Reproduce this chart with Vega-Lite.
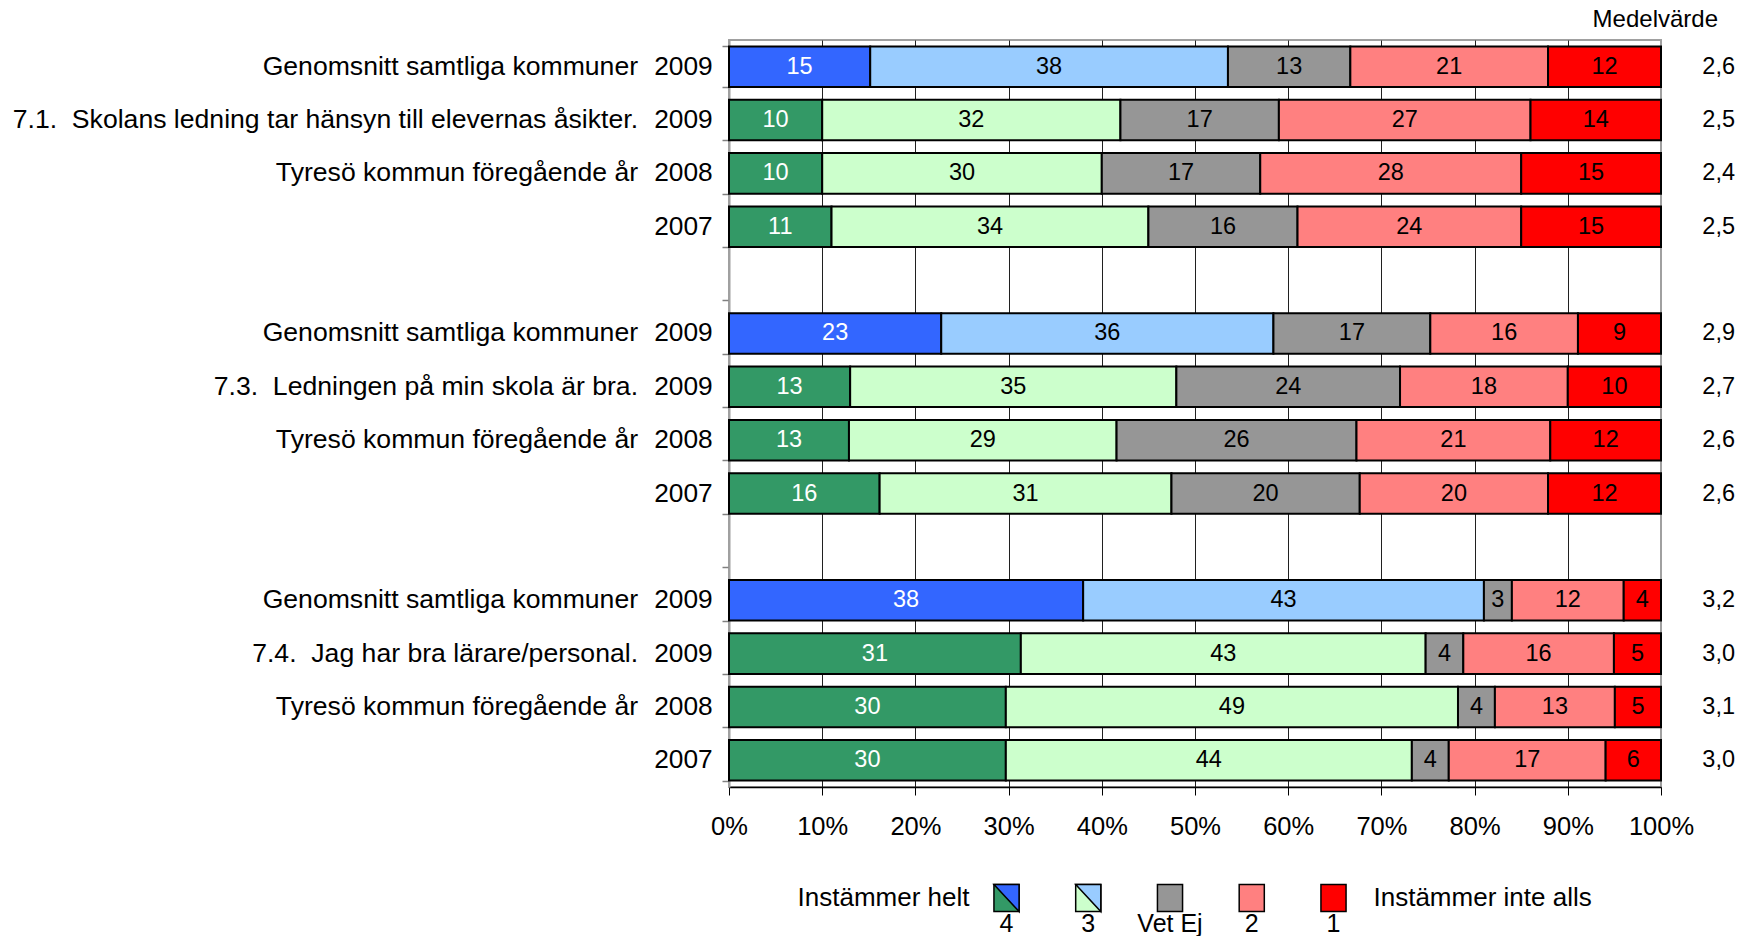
{
  "$schema": "https://vega.github.io/schema/vega-lite/v6.json",
  "padding": {"left": 11, "top": 7, "right": 0, "bottom": 0},
  "background": "white",
  "spacing": 40,
  "config": {"font": "Liberation Sans", "view": {"stroke": null}},
  "datasets": {
    "segs": [
      {"r": "r01", "i": 1, "c": "4s", "v": 15}, {"r": "r01", "i": 2, "c": "3s", "v": 38}, {"r": "r01", "i": 3, "c": "Vet Ej", "v": 13}, {"r": "r01", "i": 4, "c": "2", "v": 21}, {"r": "r01", "i": 5, "c": "1", "v": 12},
      {"r": "r02", "i": 1, "c": "4", "v": 10}, {"r": "r02", "i": 2, "c": "3", "v": 32}, {"r": "r02", "i": 3, "c": "Vet Ej", "v": 17}, {"r": "r02", "i": 4, "c": "2", "v": 27}, {"r": "r02", "i": 5, "c": "1", "v": 14},
      {"r": "r03", "i": 1, "c": "4", "v": 10}, {"r": "r03", "i": 2, "c": "3", "v": 30}, {"r": "r03", "i": 3, "c": "Vet Ej", "v": 17}, {"r": "r03", "i": 4, "c": "2", "v": 28}, {"r": "r03", "i": 5, "c": "1", "v": 15},
      {"r": "r04", "i": 1, "c": "4", "v": 11}, {"r": "r04", "i": 2, "c": "3", "v": 34}, {"r": "r04", "i": 3, "c": "Vet Ej", "v": 16}, {"r": "r04", "i": 4, "c": "2", "v": 24}, {"r": "r04", "i": 5, "c": "1", "v": 15},
      {"r": "r06", "i": 1, "c": "4s", "v": 23}, {"r": "r06", "i": 2, "c": "3s", "v": 36}, {"r": "r06", "i": 3, "c": "Vet Ej", "v": 17}, {"r": "r06", "i": 4, "c": "2", "v": 16}, {"r": "r06", "i": 5, "c": "1", "v": 9},
      {"r": "r07", "i": 1, "c": "4", "v": 13}, {"r": "r07", "i": 2, "c": "3", "v": 35}, {"r": "r07", "i": 3, "c": "Vet Ej", "v": 24}, {"r": "r07", "i": 4, "c": "2", "v": 18}, {"r": "r07", "i": 5, "c": "1", "v": 10},
      {"r": "r08", "i": 1, "c": "4", "v": 13}, {"r": "r08", "i": 2, "c": "3", "v": 29}, {"r": "r08", "i": 3, "c": "Vet Ej", "v": 26}, {"r": "r08", "i": 4, "c": "2", "v": 21}, {"r": "r08", "i": 5, "c": "1", "v": 12},
      {"r": "r09", "i": 1, "c": "4", "v": 16}, {"r": "r09", "i": 2, "c": "3", "v": 31}, {"r": "r09", "i": 3, "c": "Vet Ej", "v": 20}, {"r": "r09", "i": 4, "c": "2", "v": 20}, {"r": "r09", "i": 5, "c": "1", "v": 12},
      {"r": "r11", "i": 1, "c": "4s", "v": 38}, {"r": "r11", "i": 2, "c": "3s", "v": 43}, {"r": "r11", "i": 3, "c": "Vet Ej", "v": 3}, {"r": "r11", "i": 4, "c": "2", "v": 12}, {"r": "r11", "i": 5, "c": "1", "v": 4},
      {"r": "r12", "i": 1, "c": "4", "v": 31}, {"r": "r12", "i": 2, "c": "3", "v": 43}, {"r": "r12", "i": 3, "c": "Vet Ej", "v": 4}, {"r": "r12", "i": 4, "c": "2", "v": 16}, {"r": "r12", "i": 5, "c": "1", "v": 5},
      {"r": "r13", "i": 1, "c": "4", "v": 30}, {"r": "r13", "i": 2, "c": "3", "v": 49}, {"r": "r13", "i": 3, "c": "Vet Ej", "v": 4}, {"r": "r13", "i": 4, "c": "2", "v": 13}, {"r": "r13", "i": 5, "c": "1", "v": 5},
      {"r": "r14", "i": 1, "c": "4", "v": 30}, {"r": "r14", "i": 2, "c": "3", "v": 44}, {"r": "r14", "i": 3, "c": "Vet Ej", "v": 4}, {"r": "r14", "i": 4, "c": "2", "v": 17}, {"r": "r14", "i": 5, "c": "1", "v": 6}
    ],
    "rows": [
      {"r": "r01", "label": "Genomsnitt samtliga kommuner", "year": "2009", "mean": "2,6"},
      {"r": "r02", "label": "7.1.\u00a0 Skolans ledning tar hänsyn till elevernas åsikter.", "year": "2009", "mean": "2,5"},
      {"r": "r03", "label": "Tyresö kommun föregående år", "year": "2008", "mean": "2,4"},
      {"r": "r04", "label": "", "year": "2007", "mean": "2,5"},
      {"r": "r06", "label": "Genomsnitt samtliga kommuner", "year": "2009", "mean": "2,9"},
      {"r": "r07", "label": "7.3.\u00a0 Ledningen på min skola är bra.", "year": "2009", "mean": "2,7"},
      {"r": "r08", "label": "Tyresö kommun föregående år", "year": "2008", "mean": "2,6"},
      {"r": "r09", "label": "", "year": "2007", "mean": "2,6"},
      {"r": "r11", "label": "Genomsnitt samtliga kommuner", "year": "2009", "mean": "3,2"},
      {"r": "r12", "label": "7.4.\u00a0 Jag har bra lärare/personal.", "year": "2009", "mean": "3,0"},
      {"r": "r13", "label": "Tyresö kommun föregående år", "year": "2008", "mean": "3,1"},
      {"r": "r14", "label": "", "year": "2007", "mean": "3,0"}
    ],
    "legend": [
      {"k": "4", "lo": "4", "hi": "4s", "split": true, "side": "Instämmer helt"},
      {"k": "3", "lo": "3", "hi": "3s", "split": true, "side": ""},
      {"k": "Vet Ej", "lo": "Vet Ej", "hi": "Vet Ej", "split": false, "side": ""},
      {"k": "2", "lo": "2", "hi": "2", "split": false, "side": ""},
      {"k": "1", "lo": "1", "hi": "1", "split": false, "side": "Instämmer inte alls"}
    ]
  },
  "vconcat": [
    {
      "width": 932,
      "height": 747,
      "view": {"stroke": "#a0a0a0", "strokeWidth": 2},
      "title": {"text": "Medelvärde", "anchor": "end", "frame": "group", "fontSize": 24, "fontWeight": "normal", "color": "black", "dx": 57, "offset": 8},
      "layer": [
        {
          "data": {"name": "segs"},
          "mark": {"type": "bar", "stroke": "black", "strokeWidth": 2},
          "encoding": {
            "y": {"field": "r", "type": "nominal", "title": null,
              "scale": {"domain": ["r01","r02","r03","r04","r05","r06","r07","r08","r09","r10","r11","r12","r13","r14"], "paddingInner": 0.24, "paddingOuter": 0.12},
              "axis": {"title": null, "labels": false, "tickBand": "extent", "tickColor": "#808080", "tickSize": 7, "tickWidth": 1.5, "domainColor": "#a0a0a0", "domainWidth": 2, "grid": false}},
            "x": {"field": "v", "type": "quantitative", "stack": "normalize", "title": null,
              "scale": {"domain": [0, 1]},
              "axis": {"title": null, "values": [0, 0.1, 0.2, 0.3, 0.4, 0.5, 0.6, 0.7, 0.8, 0.9, 1], "format": ".0%", "grid": true,
                "gridColor": {"condition": {"test": "datum.value <= 0 || datum.value >= 1", "value": "#a0a0a0"}, "value": "#202020"},
                "gridWidth": 1, "domainColor": "black", "domainWidth": 1.5, "tickColor": "black", "tickSize": 8, "tickWidth": 1,
                "labelFontSize": 25.5, "labelColor": "black", "labelPadding": 19, "labelFlush": false}},
            "color": {"field": "c", "type": "nominal", "legend": null,
              "scale": {"domain": ["4s","3s","4","3","Vet Ej","2","1"], "range": ["#3366FF","#99CCFF","#339966","#CCFFCC","#969696","#FF8080","#FF0000"]}},
            "order": {"field": "i", "type": "quantitative"}
          }
        },
        {
          "data": {"name": "segs"},
          "mark": {"type": "text", "fontSize": 23.5, "baseline": "middle", "align": "center"},
          "encoding": {
            "y": {"field": "r", "type": "nominal", "title": null},
            "x": {"field": "v", "type": "quantitative", "stack": "normalize", "bandPosition": 0.5, "title": null},
            "detail": {"field": "c", "type": "nominal"},
            "order": {"field": "i", "type": "quantitative"},
            "text": {"field": "v", "type": "quantitative"},
            "color": {"condition": {"test": "datum.i === 1", "value": "white"}, "value": "black"}
          }
        },
        {
          "data": {"name": "rows"},
          "mark": {"type": "text", "fontSize": 26.6, "align": "right", "baseline": "middle", "color": "black"},
          "encoding": {
            "y": {"field": "r", "type": "nominal", "title": null},
            "x": {"datum": -0.0976, "type": "quantitative"},
            "text": {"field": "label", "type": "nominal"}
          }
        },
        {
          "data": {"name": "rows"},
          "mark": {"type": "text", "fontSize": 26.3, "align": "right", "baseline": "middle", "color": "black"},
          "encoding": {
            "y": {"field": "r", "type": "nominal", "title": null},
            "x": {"datum": -0.0175, "type": "quantitative"},
            "text": {"field": "year", "type": "nominal"}
          }
        },
        {
          "data": {"name": "rows"},
          "mark": {"type": "text", "fontSize": 23.5, "align": "center", "baseline": "middle", "color": "black"},
          "encoding": {
            "y": {"field": "r", "type": "nominal", "title": null},
            "x": {"datum": 1.0619, "type": "quantitative"},
            "text": {"field": "mean", "type": "nominal"}
          }
        }
      ]
    },
    {
      "width": 932,
      "height": 30,
      "data": {"name": "legend"},
      "layer": [
        {
          "mark": {"type": "point", "filled": true, "opacity": 1, "shape": "M-0.93,-1H0.93V1H-0.93Z", "size": 729, "stroke": "black", "strokeWidth": 1.5},
          "encoding": {
            "x": {"field": "k", "type": "nominal", "axis": null, "title": null,
              "scale": {"type": "point", "domain": ["4","3","Vet Ej","2","1"], "range": [277.5, 604.5], "padding": 0}},
            "color": {"field": "lo", "type": "nominal", "legend": null}
          }
        },
        {
          "transform": [{"filter": "datum.split"}],
          "mark": {"type": "point", "filled": true, "opacity": 1, "shape": "M-0.93,-1H0.93V1Z", "size": 729, "stroke": "black", "strokeWidth": 1.5},
          "encoding": {
            "x": {"field": "k", "type": "nominal", "axis": null, "title": null},
            "color": {"field": "hi", "type": "nominal", "legend": null}
          }
        },
        {
          "mark": {"type": "text", "fontSize": 25, "align": "center", "baseline": "middle", "dy": 26, "color": "black"},
          "encoding": {
            "x": {"field": "k", "type": "nominal", "axis": null, "title": null},
            "text": {"field": "k", "type": "nominal"}
          }
        },
        {
          "transform": [{"filter": "datum.k === '4'"}],
          "mark": {"type": "text", "fontSize": 26, "align": "right", "baseline": "middle", "dx": -37, "color": "black"},
          "encoding": {
            "x": {"field": "k", "type": "nominal", "axis": null, "title": null},
            "text": {"field": "side", "type": "nominal"}
          }
        },
        {
          "transform": [{"filter": "datum.k === '1'"}],
          "mark": {"type": "text", "fontSize": 26, "align": "left", "baseline": "middle", "dx": 40, "color": "black"},
          "encoding": {
            "x": {"field": "k", "type": "nominal", "axis": null, "title": null},
            "text": {"field": "side", "type": "nominal"}
          }
        }
      ]
    }
  ]
}
